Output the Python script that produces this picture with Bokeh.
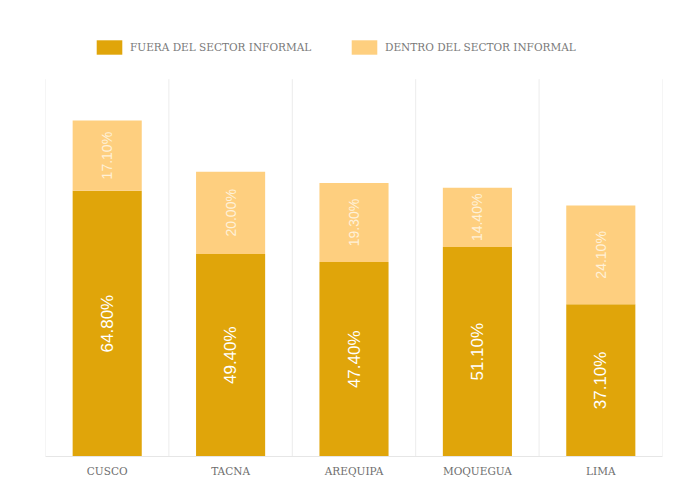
import math
from bokeh.plotting import figure
from bokeh.models import ColumnDataSource, Legend, LegendItem, Range1d, FactorRange
from bokeh.core.properties import value
from bokeh.embed import file_html
from bokeh.resources import INLINE

regions = ["CUSCO", "TACNA", "AREQUIPA", "MOQUEGUA", "LIMA"]
fuera = [64.8, 49.4, 47.4, 51.1, 37.1]
dentro = [17.1, 20.0, 19.3, 14.4, 24.1]
series_names = ["FUERA DEL SECTOR INFORMAL", "DENTRO DEL SECTOR INFORMAL"]

DARK = "#E0A50A"
LIGHT = "#FECF7F"

src = ColumnDataSource(dict(
    region=regions,
    fuera=fuera,
    dentro=dentro,
    fuera_mid=[f / 2 for f in fuera],
    dentro_mid=[f + d / 2 for f, d in zip(fuera, dentro)],
    fuera_lbl=["%.2f%%" % f for f in fuera],
    dentro_lbl=["%.2f%%" % d for d in dentro],
))

p = figure(width=688, height=487, output_backend="svg", toolbar_location=None,
           x_range=FactorRange(*regions, range_padding=0),
           y_range=Range1d(0, 106.3),
           min_border_left=45, min_border_right=26, min_border_top=20, min_border_bottom=31)
p.outline_line_color = None
p.background_fill_color = "white"
p.border_fill_color = "white"
p.ygrid.visible = False
p.xgrid.visible = False
p.yaxis.visible = False

# separator lines between categories
n = len(regions) + 1
p.segment(x0=list(range(n)), x1=list(range(n)), y0=[0] * n, y1=[92] * n,
          line_color="#ECECEC", line_width=1)

rs = p.vbar_stack(["fuera", "dentro"], x="region", width=0.56, source=src,
                  color=[DARK, LIGHT], line_color=None)

p.text(x="region", y="fuera_mid", text="fuera_lbl", source=src, angle=math.pi / 2,
       text_align="center", text_baseline="middle", text_color="white",
       text_font=value("Liberation Sans"), text_font_size="17px")
p.text(x="region", y="dentro_mid", text="dentro_lbl", source=src, angle=math.pi / 2,
       text_align="center", text_baseline="middle", text_color="#FFF1D8",
       text_font=value("Liberation Sans"), text_font_size="14px")

p.xaxis.axis_line_color = "#E6E6E6"
p.xaxis.major_tick_line_color = None
p.xaxis.minor_tick_line_color = None
p.xaxis.major_label_text_font = "DejaVu Serif"
p.xaxis.major_label_text_font_size = "10.5px"
p.xaxis.major_label_text_color = "#6E6E6E"
p.xaxis.major_label_standoff = 2

for r, name, xloc in zip(rs, series_names, [48, 303]):
    lg = Legend(items=[LegendItem(label=name, renderers=[r])], location=(xloc, 400),
                orientation="horizontal", glyph_width=32, glyph_height=18,
                label_text_font="DejaVu Serif", label_text_font_size="10.5px",
                label_text_color="#7A7A7A", label_standoff=5, label_height=18,
                padding=0, margin=0, border_line_color=None, background_fill_alpha=0)
    p.add_layout(lg, "center")

open("out.html", "w").write(file_html(p, INLINE))
